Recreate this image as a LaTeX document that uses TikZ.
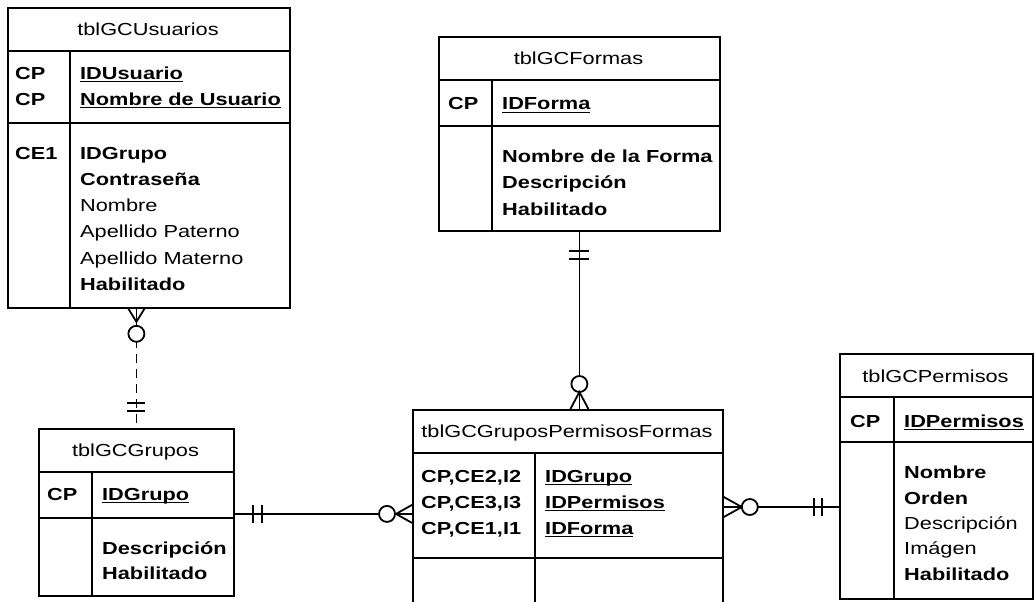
\documentclass[tikz,border=0pt]{standalone}
\usepackage{fontspec}
\setmainfont{Liberation Sans}[FakeStretch=1.25]
\usetikzlibrary{calc}
\newcommand{\ulk}[1]{\setbox0\hbox{#1}\rlap{\rule[-3pt]{\wd0}{1.4pt}}#1}
\begin{document}
\begin{tikzpicture}[x=1pt,y=-1pt,
  tbl/.style={draw,line width=1.8pt,anchor=north west,inner sep=0pt},
  tline/.style={line width=1.8pt},
  conn/.style={line width=1.8pt},
  txt/.style={anchor=base west,inner sep=0pt,font=\fontsize{17.4}{26}\selectfont},
  btxt/.style={txt,font=\fontsize{17.4}{26}\selectfont\bfseries},
  ttl/.style={anchor=base,inner sep=0pt,font=\fontsize{17.4}{26}\selectfont}]
\useasboundingbox (0,0) rectangle (1036,602);

% ---------- tblGCUsuarios
\node[tbl,minimum width=282pt,minimum height=300pt] (usu) at (7,7) {};
\draw[tline] (7,51) -- (289,51);
\draw[tline] (7,123) -- (289,123);
\draw[tline] (70,51) -- (70,307);
\node[ttl] (usuT) at (148,36) {tblGCUsuarios};
\node[btxt] (usuK1) at (15,79) {CP};
\node[btxt] (usuF1) at (80,79) {\ulk{IDUsuario}};
\node[btxt] (usuK2) at (15,105) {CP};
\node[btxt] (usuF2) at (80,105) {\ulk{Nombre de Usuario}};
\node[btxt] (usuK3) at (15,159) {CE1};
\node[btxt] (usuF3) at (80,159) {IDGrupo};
\node[btxt] (usuF4) at (80,185.3) {Contraseña};
\node[txt] (usuF5) at (80,211.6) {Nombre};
\node[txt] (usuF6) at (80,237.9) {Apellido Paterno};
\node[txt] (usuF7) at (80,264.2) {Apellido Materno};
\node[btxt] (usuF8) at (80,290.5) {Habilitado};

% ---------- tblGCFormas
\node[tbl,minimum width=281pt,minimum height=194pt] (frm) at (438,36) {};
\draw[tline] (438,80) -- (719,80);
\draw[tline] (438,126) -- (719,126);
\draw[tline] (492,80) -- (492,230);
\node[ttl] (frmT) at (578.5,65) {tblGCFormas};
\node[btxt] (frmK1) at (448,110) {CP};
\node[btxt] (frmF1) at (502,110) {\ulk{IDForma}};
\node[btxt] (frmF2) at (502,162) {Nombre de la Forma};
\node[btxt] (frmF3) at (502,188.5) {Descripción};
\node[btxt] (frmF4) at (502,215) {Habilitado};

% ---------- tblGCGrupos
\node[tbl,minimum width=195pt,minimum height=167pt] (grp) at (38,428) {};
\draw[tline] (38,472) -- (233,472);
\draw[tline] (38,518) -- (233,518);
\draw[tline] (92,472) -- (92,595);
\node[ttl] (grpT) at (135.5,456) {tblGCGrupos};
\node[btxt] (grpK1) at (47,500) {CP};
\node[btxt] (grpF1) at (102,500) {\ulk{IDGrupo}};
\node[btxt] (grpF2) at (102,554) {Descripción};
\node[btxt] (grpF3) at (102,579) {Habilitado};

% ---------- tblGCGruposPermisosFormas
\node[tbl,minimum width=310pt,minimum height=216pt] (gpf) at (412,409) {};
\draw[tline] (412,453) -- (722,453);
\draw[tline] (412,558) -- (722,558);
\draw[tline] (535,453) -- (535,625);
\node[ttl] (gpfT) at (567,437) {tblGCGruposPermisosFormas};
\node[btxt] (gpfK1) at (421,482) {CP,CE2,I2};
\node[btxt] (gpfF1) at (545,482) {\ulk{IDGrupo}};
\node[btxt] (gpfK2) at (421,508) {CP,CE3,I3};
\node[btxt] (gpfF2) at (545,508) {\ulk{IDPermisos}};
\node[btxt] (gpfK3) at (421,534) {CP,CE1,I1};
\node[btxt] (gpfF3) at (545,534) {\ulk{IDForma}};

% ---------- tblGCPermisos
\node[tbl,minimum width=193pt,minimum height=245pt] (prm) at (839,353) {};
\draw[tline] (839,397) -- (1032,397);
\draw[tline] (839,442) -- (1032,442);
\draw[tline] (894,397) -- (894,598);
\node[ttl] (prmT) at (935.5,382) {tblGCPermisos};
\node[btxt] (prmK1) at (850,427) {CP};
\node[btxt] (prmF1) at (904,427) {\ulk{IDPermisos}};
\node[btxt] (prmF2) at (904,478) {Nombre};
\node[btxt] (prmF3) at (904,504) {Orden};
\node[txt] (prmF4) at (904,529) {Descripción};
\node[txt] (prmF5) at (904,554.5) {Imágen};
\node[btxt] (prmF6) at (904,580) {Habilitado};

% ---------- Usuarios -- Grupos (dashed)
\coordinate (uA) at (grp.north |- usu.south);
\coordinate (uB) at (grp.north);
\draw[conn,dash pattern=on 9pt off 6pt] (uA) -- (uB);
\draw[conn] ($(uA)+(-8,0)$) -- ($(uA)+(0,13)$) -- ($(uA)+(8,0)$);
\draw[conn] (uA) -- ($(uA)+(0,17)$);
\draw[conn,fill=white] ($(uA)+(0,25)$) circle (8);
\draw[conn] ($(uB)+(-9,-25)$) -- ($(uB)+(9,-25)$);
\draw[conn] ($(uB)+(-9,-17)$) -- ($(uB)+(9,-17)$);

% ---------- Grupos -- GruposPermisosFormas
\coordinate (gA) at ($(grp.east)+(0,1.5)$);
\coordinate (gB) at (gpf.west |- gA);
\draw[conn] (gA) -- (gB);
\draw[conn] ($(gA)+(18,-9)$) -- ($(gA)+(18,9)$);
\draw[conn] ($(gA)+(27,-9)$) -- ($(gA)+(27,9)$);
\draw[conn,fill=white] ($(gB)+(-25,0)$) circle (8);
\draw[conn] ($(gB)+(0,-9)$) -- ($(gB)+(-16,0)$) -- ($(gB)+(0,9)$);

% ---------- Formas -- GruposPermisosFormas
\coordinate (fA) at (frm.south);
\coordinate (fB) at (frm.south |- gpf.north);
\draw[conn] (fA) -- (fB);
\draw[conn] ($(fA)+(-10,19)$) -- ($(fA)+(10,19)$);
\draw[conn] ($(fA)+(-10,27)$) -- ($(fA)+(10,27)$);
\draw[conn,fill=white] ($(fB)+(0,-25)$) circle (8);
\draw[conn] ($(fB)+(-9,0)$) -- ($(fB)+(0,-17)$) -- ($(fB)+(9,0)$);

% ---------- GruposPermisosFormas -- Permisos
\coordinate (pA) at (gpf.east |- 0,507);
\coordinate (pB) at (prm.west |- pA);
\draw[conn] (pA) -- (pB);
\draw[conn] ($(pA)+(0,-10)$) -- ($(pA)+(18,0)$) -- ($(pA)+(0,10)$);
\draw[conn,fill=white] ($(pA)+(26,0)$) circle (8);
\draw[conn] ($(pB)+(-25,-9)$) -- ($(pB)+(-25,9)$);
\draw[conn] ($(pB)+(-17,-9)$) -- ($(pB)+(-17,9)$);
\end{tikzpicture}
\end{document}
